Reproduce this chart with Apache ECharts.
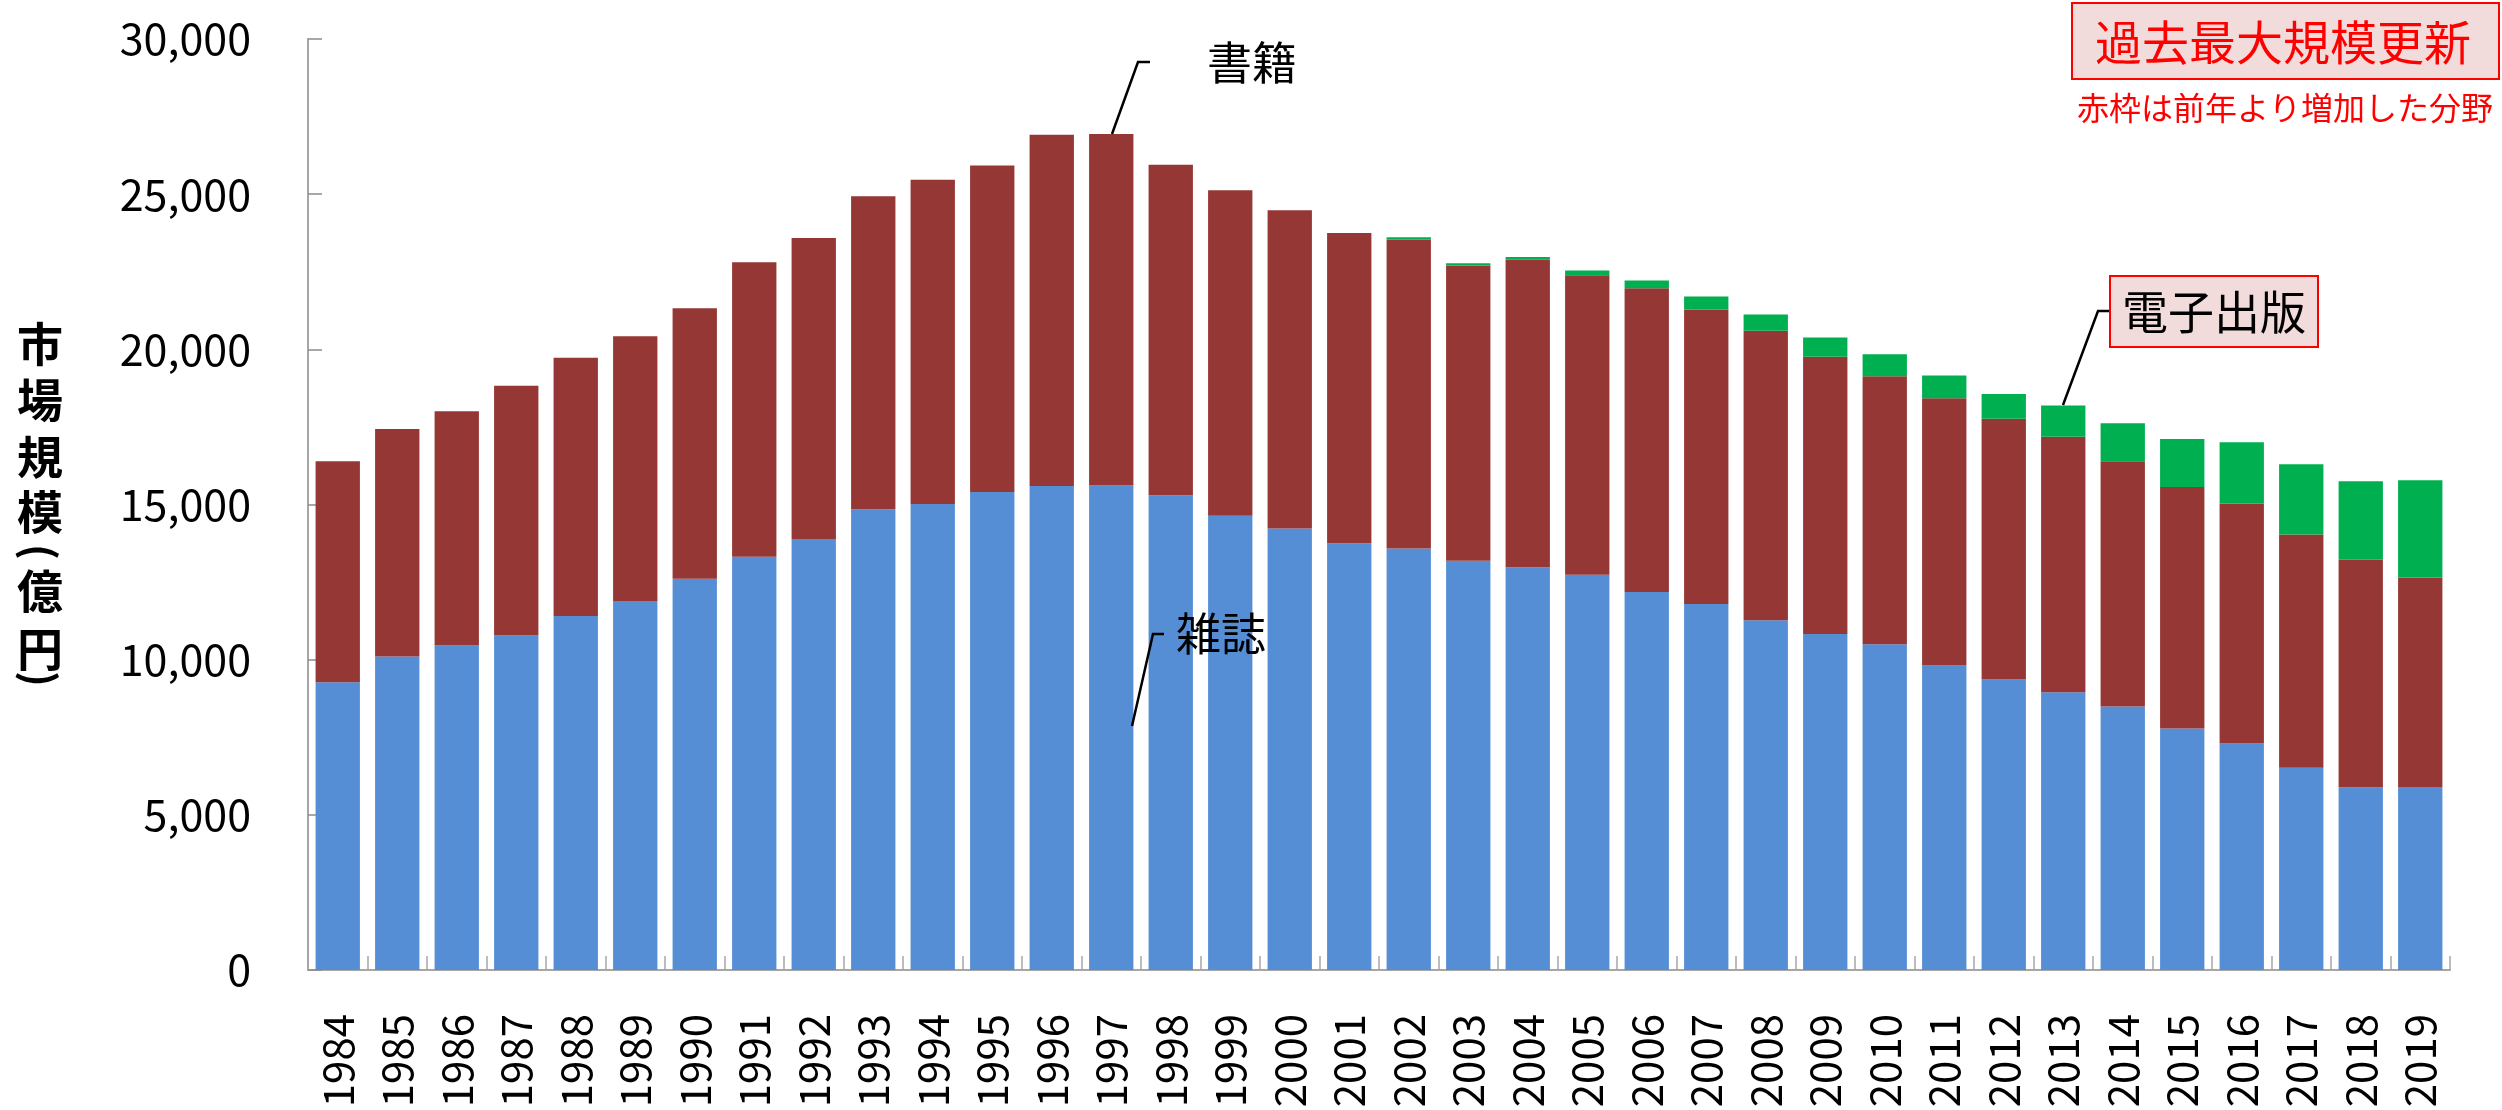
<!DOCTYPE html>
<html>
<head>
<meta charset="utf-8">
<script src="https://cdn.jsdelivr.net/npm/echarts@6/dist/echarts.min.js"></script>
<style>
html,body{margin:0;padding:0;background:#fff;}
#chart{width:2502px;height:1110px;}
</style>
</head>
<body>
<div id="chart"></div>
<script>
// 出版市場規模の推移（億円）
var years = ['1984','1985','1986','1987','1988','1989','1990','1991','1992','1993','1994','1995',
  '1996','1997','1998','1999','2000','2001','2002','2003','2004','2005','2006','2007',
  '2008','2009','2010','2011','2012','2013','2014','2015','2016','2017','2018','2019'];
// 雑誌
var zasshi = [9270,10100,10460,10780,11410,11890,12610,13320,13890,14850,15020,15400,
  15600,15610,15300,14640,14230,13750,13580,13190,12980,12740,12180,11790,
  11270,10830,10500,9810,9360,8950,8490,7780,7300,6520,5890,5900];
// 書籍
var shoseki = [7125,7330,7545,8050,8315,8530,8715,9490,9700,10080,10445,10520,
  11315,11325,10650,10490,10250,9995,9960,9510,9905,9650,9790,9490,
  9325,8930,8630,8615,8400,8230,7905,7780,7735,7510,7330,6750];
// 電子出版
var denshi = [null,null,null,null,null,null,null,null,null,null,null,null,
  null,null,null,null,null,null,70,70,90,150,250,420,
  530,620,710,730,800,1010,1220,1550,1970,2270,2530,3130];
var yTicks = [0,5000,10000,15000,20000,25000,30000];

var FONT = '"Noto Sans CJK JP", "Noto Sans", sans-serif';

var myChart = echarts.init(document.getElementById('chart'));

var graphics = [];
function addText(x, y, txt, font, color, rot){
  graphics.push({type:'text', z:100, x:x, y:y, rotation:rot || 0,
    style:{text:txt, font:font, fill:color, textAlign:'center', textVerticalAlign:'middle'}});
}
// 縦書きの軸タイトル（括弧は回転して縦書き風に）
var titleChars = [['市',344],['場',400],['規',457],['模',512],['億',591],['円',649]];
titleChars.forEach(function(c){
  addText(40, c[1], c[0], 'bold 46px ' + FONT, '#000');
});
addText(40, 552, '(', 'bold 42px ' + FONT, '#000', -Math.PI / 2);
addText(40, 679, ')', 'bold 42px ' + FONT, '#000', -Math.PI / 2);

// 右上の凡例ボックス
graphics.push({type:'rect', z:100, shape:{x:2072, y:3, width:427, height:76}, style:{fill:'#F2DCDB', stroke:'#FF0000', lineWidth:2}});
addText(2283, 42, '過去最大規模更新', '47px ' + FONT, '#FF0000');
addText(2285, 108, '赤枠は前年より増加した分野', '32px ' + FONT, '#FF0000');
// 書籍ラベル
graphics.push({type:'polyline', z:100, shape:{points:[[1150,62],[1138,62],[1112,134]]}, style:{stroke:'#000', lineWidth:2.5, fill:null}});
addText(1252, 63, '書籍', '45px ' + FONT, '#000');
// 雑誌ラベル
graphics.push({type:'polyline', z:100, shape:{points:[[1164,634],[1153,634],[1132,726]]}, style:{stroke:'#000', lineWidth:2.5, fill:null}});
addText(1221, 634, '雑誌', '45px ' + FONT, '#000');
// 電子出版ラベル
graphics.push({type:'polyline', z:100, shape:{points:[[2109,311],[2098,311],[2063,405]]}, style:{stroke:'#000', lineWidth:2.5, fill:null}});
graphics.push({type:'rect', z:100, shape:{x:2110, y:276, width:208, height:71}, style:{fill:'#F2DCDB', stroke:'#FF0000', lineWidth:2}});
addText(2214, 312, '電子出版', '46px ' + FONT, '#000');

var option = {
  animation: false,
  backgroundColor: '#fff',
  grid: {
    left: 308,
    right: 52,
    top: 39,
    bottom: 140,
    containLabel: false,
    outerBoundsMode: 'none'
  },
  xAxis: {
    type: 'category',
    data: years,
    axisLine: {show: true, lineStyle: {color: '#A6A6A6', width: 2}},
    axisTick: {show: true, inside: true, length: 14, lineStyle: {color: '#A6A6A6', width: 1.5}},
    axisLabel: {
      rotate: 90,
      margin: 44,
      interval: 0,
      color: '#000',
      fontSize: 42,
      fontFamily: FONT
    },
    splitLine: {show: false}
  },
  yAxis: {
    type: 'value',
    min: yTicks[0],
    max: yTicks[yTicks.length - 1],
    interval: 5000,
    axisLine: {show: true, lineStyle: {color: '#A6A6A6', width: 2}},
    axisTick: {show: true, inside: true, length: 14, lineStyle: {color: '#8C8C8C', width: 1.5}},
    axisLabel: {
      margin: 57,
      color: '#000',
      fontSize: 43,
      fontFamily: FONT,
      formatter: function(v){ return v.toString().replace(/\B(?=(\d{3})+(?!\d))/g, ','); }
    },
    splitLine: {show: false}
  },
  series: [
    {name: '雑誌', type: 'bar', stack: 'total', data: zasshi, barCategoryGap: '25.5%', itemStyle: {color: '#558ED5'}},
    {name: '書籍', type: 'bar', stack: 'total', data: shoseki, itemStyle: {color: '#953735'}},
    {name: '電子出版', type: 'bar', stack: 'total', data: denshi, itemStyle: {color: '#00B050'}}
  ],
  graphic: graphics
};

myChart.setOption(option);
</script>
</body>
</html>
